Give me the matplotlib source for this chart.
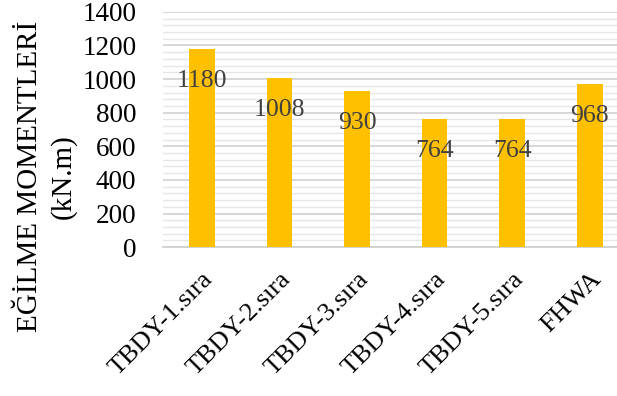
import numpy as np
import matplotlib
matplotlib.use("Agg")
import matplotlib.pyplot as plt
from matplotlib.ticker import MultipleLocator

plt.rcParams['font.family'] = ['Liberation Serif', 'DejaVu Serif']

categories = ['TBDY-1.sıra', 'TBDY-2.sıra', 'TBDY-3.sıra', 'TBDY-4.sıra', 'TBDY-5.sıra', 'FHWA']
moments = [1180, 1008, 930, 764, 764, 968]
yticks = [0, 200, 400, 600, 800, 1000, 1200, 1400]

fig = plt.figure(figsize=(6.17, 3.96), dpi=100)
ax = fig.add_axes([0.264, 0.376, 0.755, 0.594])

x = np.arange(len(categories))
bars = ax.bar(x, moments, width=0.33, color='#FFC000', zorder=3)

# value labels sit inside the bar, a little below its top
for rect, val in zip(bars, moments):
    ax.annotate(str(val), (rect.get_x() + rect.get_width() / 2, val),
                xytext=(0, -23), textcoords='offset points',
                ha='center', va='center', fontsize=18.5, color='#404040', zorder=4)

ax.set_ylim(0, 1400)
ax.set_xlim(-0.5, len(categories) - 0.5)
ax.set_yticks(yticks)
ax.yaxis.set_minor_locator(MultipleLocator(40))
ax.grid(axis='y', which='major', color='#d4d4d4', linewidth=1.3, zorder=0)
ax.grid(axis='y', which='minor', color='#e6e6e6', linewidth=1.0, zorder=0)
ax.set_axisbelow(True)

for s in ['top', 'right', 'left']:
    ax.spines[s].set_visible(False)
ax.spines['bottom'].set_color('#d0d0d0')
ax.spines['bottom'].set_linewidth(1.3)

ax.tick_params(axis='y', which='both', length=0, labelsize=19.5, pad=19)
ax.tick_params(axis='x', length=0, labelsize=19, pad=15)
ax.set_xticks(x)
ax.set_xticklabels(categories, rotation=45, ha='right', rotation_mode='anchor')

fig.text(0.049, 0.555, 'EĞİLME MOMENTLERİ', rotation=90, ha='center', va='center', fontsize=21)
fig.text(0.102, 0.555, '(kN.m)', rotation=90, ha='center', va='center', fontsize=21)

fig.savefig('out.png', dpi=100)
